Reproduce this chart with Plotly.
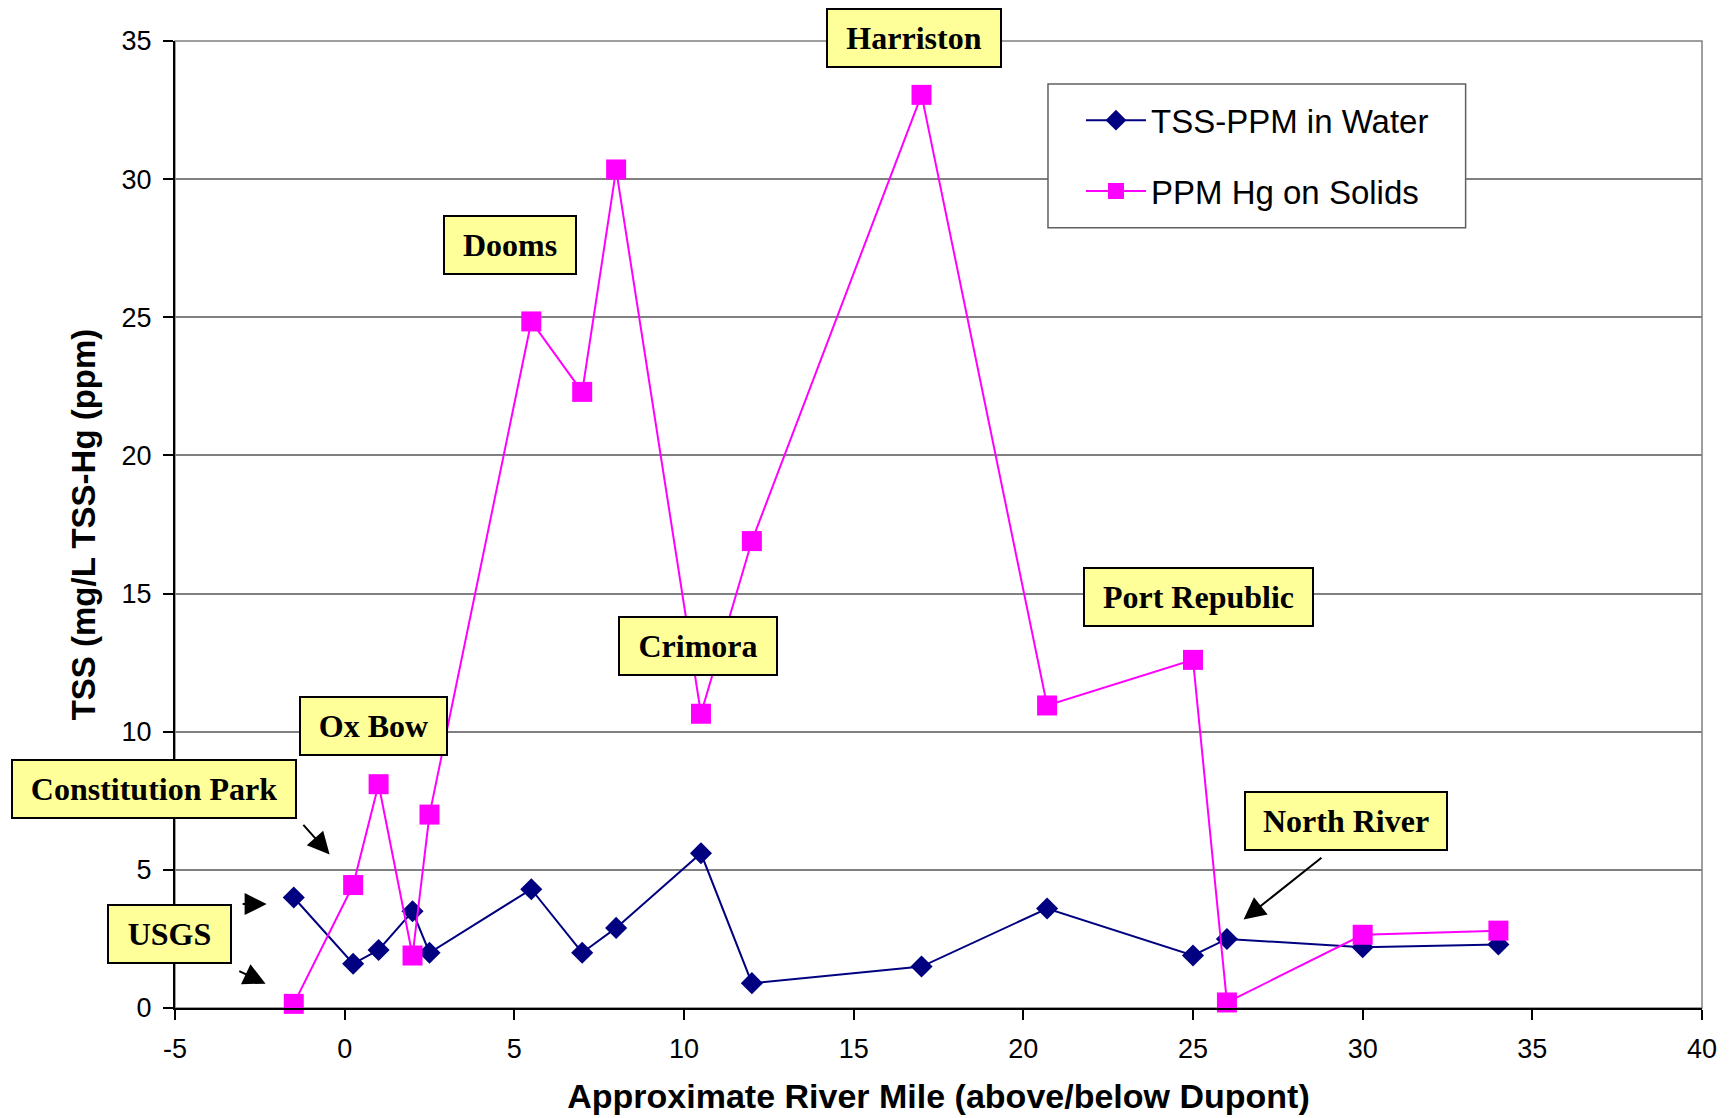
import plotly.graph_objects as go

# ---- data ----
river_mile = [-1.5, 0.25, 1.0, 2.0, 2.5, 5.5, 7.0, 8.0, 10.5, 12.0, 17.0, 20.7, 25.0, 26.0, 30.0, 34.0]
tss_water = [4.0, 1.6, 2.1, 3.5, 2.0, 4.3, 2.0, 2.9, 5.6, 0.9, 1.5, 3.6, 1.9, 2.5, 2.2, 2.3]
hg_solids = [0.15, 4.45, 8.1, 1.9, 7.0, 24.85, 22.3, 30.35, 10.65, 16.9, 33.05, 10.95, 12.6, 0.2, 2.65, 2.8]

series_names = ["TSS-PPM in Water", "PPM Hg on Solids"]

site_labels = ["Harriston", "Dooms", "Crimora", "Port Republic", "North River",
               "Ox Bow", "Constitution Park", "USGS"]
site_label_x = [16.78, 4.86, 10.40, 25.15, 29.51, 0.86, -5.62, -5.16]
site_label_y = [35.12, 27.6, 13.12, 14.88, 6.76, 10.2, 7.92, 2.68]
site_label_w = [172, 130, 156, 227, 200, 145, 282, 121]

# arrows: (tail_x, tail_y, head_x, head_y)
arrow_tail_x = [-1.257, -3.05, -3.15, 28.83]
arrow_tail_y = [6.68, 3.76, 1.36, 5.48]
arrow_head_x = [-0.443, -2.30, -2.33, 26.49]
arrow_head_y = [5.56, 3.76, 0.88, 3.20]

x_range = [-5, 40]
y_range = [0, 35]
x_ticks = [-5, 0, 5, 10, 15, 20, 25, 30, 35, 40]
y_ticks = [0, 5, 10, 15, 20, 25, 30, 35]

SANS = "Liberation Sans, Arial, sans-serif"
SERIF = "Liberation Serif, Times New Roman, serif"

fig = go.Figure()
fig.add_trace(go.Scatter(
    x=river_mile, y=tss_water, name=series_names[0], mode="lines+markers",
    line=dict(color="#000080", width=2),
    marker=dict(symbol="diamond", size=17, color="#000080"),
    legendgroup="a", cliponaxis=False,
))
fig.add_trace(go.Scatter(
    x=river_mile, y=hg_solids, name=series_names[1], mode="lines+markers",
    line=dict(color="#FF00FF", width=2),
    marker=dict(symbol="square", size=20, color="#FF00FF"),
    legendgroup="b", cliponaxis=False,
))


def to_paper_x(v):
    return (v - x_range[0]) / (x_range[1] - x_range[0])


def to_paper_y(v):
    return (v - y_range[0]) / (y_range[1] - y_range[0])


annotations = []
for t, x, y, w in zip(site_labels, site_label_x, site_label_y, site_label_w):
    annotations.append(dict(
        x=to_paper_x(x), y=to_paper_y(y), xref="paper", yref="paper",
        xanchor="center", yanchor="middle",
        text="<b>%s</b>" % t, showarrow=False,
        font=dict(family=SERIF, size=32, color="black"),
        bgcolor="#FFFF99", bordercolor="black", borderwidth=2, borderpad=0,
        width=w, height=56, align="center", valign="middle",
    ))
for tx, ty, hx, hy in zip(arrow_tail_x, arrow_tail_y, arrow_head_x, arrow_head_y):
    annotations.append(dict(
        x=hx, y=hy, ax=tx, ay=ty, xref="x", yref="y", axref="x", ayref="y",
        text="", showarrow=True, arrowhead=2, arrowsize=2.2, arrowwidth=2,
        arrowcolor="black", standoff=0, startstandoff=0,
    ))

fig.update_layout(
    width=1733, height=1118,
    margin=dict(l=167, r=39, t=33, b=118, autoexpand=False),
    paper_bgcolor="white", plot_bgcolor="white",
    font=dict(family=SANS, color="black"),
    showlegend=True,
    legend=dict(
        x=0.5933, y=0.947, xanchor="left", yanchor="top",
        bgcolor="rgba(0,0,0,0)", borderwidth=0,
        font=dict(family=SANS, size=33, color="black"),
        tracegroupgap=25, itemwidth=60,
    ),
    annotations=annotations,
    shapes=[
        dict(type="rect", xref="paper", yref="paper", x0=0, x1=1, y0=0, y1=1,
             line=dict(color="#808080", width=1.5), layer="below"),
        # legend frame
        dict(type="rect", xref="paper", yref="paper", x0=0.5717, x1=0.8452, y0=0.8069, y1=0.9555,
             line=dict(color="#606060", width=1.5), fillcolor="white", layer="above"),
    ],
    xaxis=dict(
        range=x_range, tickvals=x_ticks, ticktext=[str(v) for v in x_ticks],
        showgrid=False, zeroline=False, showline=True, linecolor="black", linewidth=2,
        ticks="outside", ticklen=10, tickwidth=1.5, tickcolor="black",
        tickfont=dict(family=SANS, size=27, color="black"), ticklabelstandoff=6,
        title=dict(text="<b>Approximate River Mile (above/below Dupont)</b>",
                   font=dict(family=SANS, size=34, color="black"), standoff=21),
        automargin=False,
    ),
    yaxis=dict(
        range=y_range, tickvals=y_ticks, ticktext=[str(v) for v in y_ticks],
        showgrid=True, gridcolor="#808080", gridwidth=1.5, zeroline=False,
        showline=True, linecolor="black", linewidth=2,
        ticks="outside", ticklen=10, tickwidth=1.5, tickcolor="black",
        tickfont=dict(family=SANS, size=27, color="black"), ticklabelstandoff=6,
        title=dict(text="<b>TSS (mg/L TSS-Hg (ppm)</b>",
                   font=dict(family=SANS, size=33, color="black"), standoff=16),
        automargin=False,
    ),
)

fig.write_html("out.html")
